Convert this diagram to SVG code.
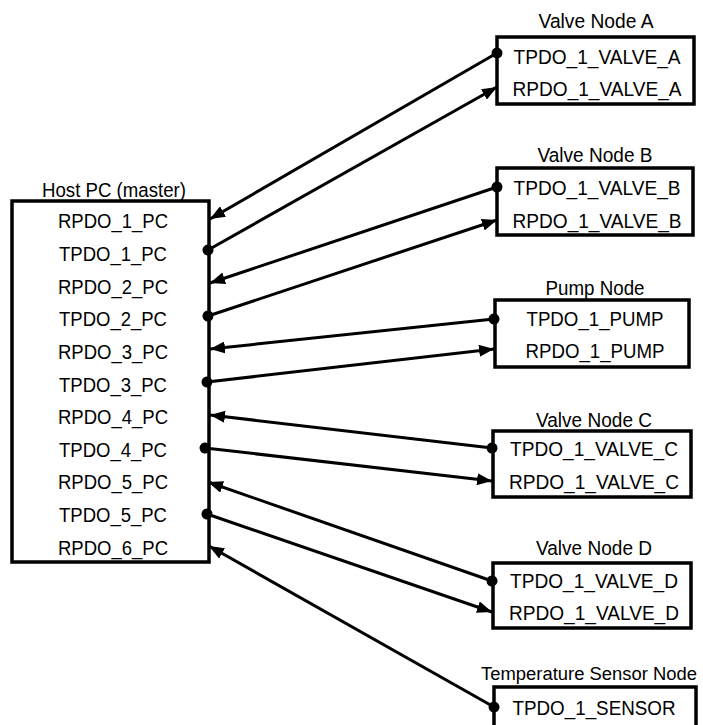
<svg xmlns="http://www.w3.org/2000/svg" width="703" height="725" viewBox="0 0 703 725">
  <style>
    .box { fill: #fff; stroke: #000; stroke-width: 3.5; }
    .t { font-family: "Liberation Sans", Arial, sans-serif; font-size: 20.5px; fill: #000; text-anchor: middle; dominant-baseline: central; }
    .link { fill: none; stroke: #000; stroke-width: 3; marker-start: url(#dot); marker-end: url(#arrow); }
  </style>
  <defs>
    <marker id="arrow" markerUnits="userSpaceOnUse" markerWidth="16" markerHeight="12" refX="15" refY="6" orient="auto">
      <path d="M0,0 L15,6 L0,12 z" fill="#000"/>
    </marker>
    <marker id="dot" markerUnits="userSpaceOnUse" markerWidth="12" markerHeight="12" refX="6" refY="6" orient="auto">
      <circle cx="6" cy="6" r="5.5" fill="#000"/>
    </marker>
  </defs>
  <rect width="703" height="725" fill="#fff"/>

  <!-- master -->
  <g id="host-pc">
    <text class="t" x="114" y="189" textLength="144" lengthAdjust="spacingAndGlyphs">Host PC (master)</text>
    <rect class="box" x="12" y="201" width="197" height="361"/>
    <text class="t" x="113" y="220" textLength="110" lengthAdjust="spacingAndGlyphs">RPDO_1_PC</text>
    <text class="t" x="113" y="253" textLength="108" lengthAdjust="spacingAndGlyphs">TPDO_1_PC</text>
    <text class="t" x="113" y="286" textLength="110" lengthAdjust="spacingAndGlyphs">RPDO_2_PC</text>
    <text class="t" x="113" y="318" textLength="108" lengthAdjust="spacingAndGlyphs">TPDO_2_PC</text>
    <text class="t" x="113" y="351" textLength="110" lengthAdjust="spacingAndGlyphs">RPDO_3_PC</text>
    <text class="t" x="113" y="384" textLength="108" lengthAdjust="spacingAndGlyphs">TPDO_3_PC</text>
    <text class="t" x="113" y="416" textLength="110" lengthAdjust="spacingAndGlyphs">RPDO_4_PC</text>
    <text class="t" x="113" y="449" textLength="108" lengthAdjust="spacingAndGlyphs">TPDO_4_PC</text>
    <text class="t" x="113" y="481" textLength="110" lengthAdjust="spacingAndGlyphs">RPDO_5_PC</text>
    <text class="t" x="113" y="514" textLength="108" lengthAdjust="spacingAndGlyphs">TPDO_5_PC</text>
    <text class="t" x="113" y="547" textLength="110" lengthAdjust="spacingAndGlyphs">RPDO_6_PC</text>
  </g>

  <!-- slave nodes -->
  <g id="valve-a">
    <text class="t" x="596" y="20" textLength="115" lengthAdjust="spacingAndGlyphs">Valve Node A</text>
    <rect class="box" x="497" y="37" width="197" height="67"/>
    <text class="t" x="597" y="56" textLength="167" lengthAdjust="spacingAndGlyphs">TPDO_1_VALVE_A</text>
    <text class="t" x="597" y="88" textLength="169" lengthAdjust="spacingAndGlyphs">RPDO_1_VALVE_A</text>
  </g>
  <g id="valve-b">
    <text class="t" x="595" y="154" textLength="115" lengthAdjust="spacingAndGlyphs">Valve Node B</text>
    <rect class="box" x="497" y="168" width="196" height="67"/>
    <text class="t" x="597" y="187" textLength="167" lengthAdjust="spacingAndGlyphs">TPDO_1_VALVE_B</text>
    <text class="t" x="597" y="220" textLength="169" lengthAdjust="spacingAndGlyphs">RPDO_1_VALVE_B</text>
  </g>
  <g id="pump">
    <text class="t" x="595" y="287" textLength="99" lengthAdjust="spacingAndGlyphs">Pump Node</text>
    <rect class="box" x="495" y="300" width="194" height="67"/>
    <text class="t" x="595" y="318" textLength="137" lengthAdjust="spacingAndGlyphs">TPDO_1_PUMP</text>
    <text class="t" x="595" y="350" textLength="139" lengthAdjust="spacingAndGlyphs">RPDO_1_PUMP</text>
  </g>
  <g id="valve-c">
    <text class="t" x="594" y="419" textLength="116" lengthAdjust="spacingAndGlyphs">Valve Node C</text>
    <rect class="box" x="493" y="431" width="198" height="66"/>
    <text class="t" x="594" y="448" textLength="168" lengthAdjust="spacingAndGlyphs">TPDO_1_VALVE_C</text>
    <text class="t" x="594" y="481" textLength="170" lengthAdjust="spacingAndGlyphs">RPDO_1_VALVE_C</text>
  </g>
  <g id="valve-d">
    <text class="t" x="594" y="547" textLength="116" lengthAdjust="spacingAndGlyphs">Valve Node D</text>
    <rect class="box" x="493" y="563" width="198" height="65"/>
    <text class="t" x="594" y="580" textLength="168" lengthAdjust="spacingAndGlyphs">TPDO_1_VALVE_D</text>
    <text class="t" x="594" y="612" textLength="170" lengthAdjust="spacingAndGlyphs">RPDO_1_VALVE_D</text>
  </g>
  <g id="temp-sensor">
    <text class="t" x="589" y="673" style="font-size:18.8px" textLength="216" lengthAdjust="spacingAndGlyphs">Temperature Sensor Node</text>
    <rect class="box" x="494" y="687" width="202" height="50"/>
    <text class="t" x="594" y="707" textLength="163" lengthAdjust="spacingAndGlyphs">TPDO_1_SENSOR</text>
  </g>

  <!-- PDO links: dot = transmitter, arrow = receiver -->
  <g id="connectors">
    <path class="link" d="M497,53 L210,219"/>
    <path class="link" d="M208,250 L497,87"/>
    <path class="link" d="M497,187 L210,283"/>
    <path class="link" d="M208,316 L497,220"/>
    <path class="link" d="M494,319 L210,349"/>
    <path class="link" d="M207,382 L494,349"/>
    <path class="link" d="M492,448 L210,415"/>
    <path class="link" d="M205,448 L492,481"/>
    <path class="link" d="M492,581 L208,482"/>
    <path class="link" d="M207,514 L492,612"/>
    <path class="link" d="M494,707 L209,546"/>
  </g>
</svg>
